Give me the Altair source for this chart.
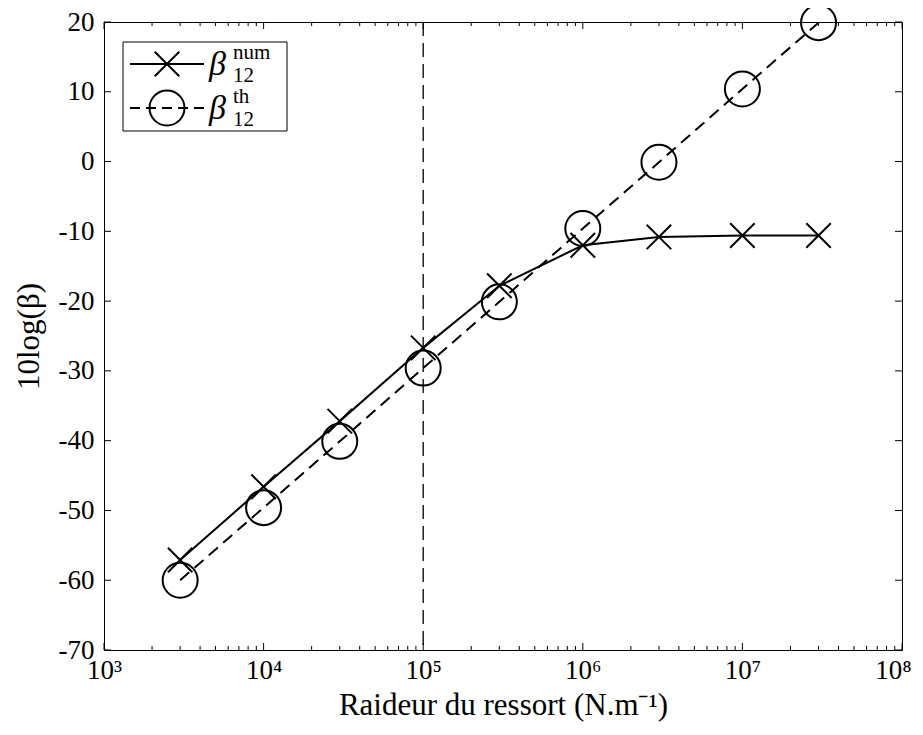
import altair as alt
import pandas as pd

# data
k_values = [3e3, 1e4, 3e4, 1e5, 3e5, 1e6, 3e6, 1e7, 3e7]
beta_num = [-57.1, -46.6, -37.2, -26.7, -17.8, -12.0, -10.8, -10.6, -10.6]
beta_th = [-60.0, -49.6, -40.1, -29.6, -20.1, -9.6, -0.1, 10.4, 19.9]
vline_x = [1e5]
x_major = [1e3, 1e4, 1e5, 1e6, 1e7, 1e8]
y_major = [-70, -60, -50, -40, -30, -20, -10, 0, 10, 20]
x_minor = [m * d for d in [1e3, 1e4, 1e5, 1e6, 1e7] for m in range(2, 10)]

W, H = 798, 628
FONT = "Liberation Serif"

df_num = pd.DataFrame({"k": k_values, "b": beta_num})
df_th = pd.DataFrame({"k": k_values, "b": beta_th})

xs = alt.Scale(type="log", domain=[1e3, 1e8], nice=False)
ys = alt.Scale(domain=[-70, 20], nice=False)

x_axis = alt.Axis(
    values=x_major,
    labelExpr="['10³','10⁴','10⁵','10⁶','10⁷','10⁸'][round(log(datum.value)/LN10)-3]",
    title="Raideur du ressort (N.m⁻¹)",
    labelPadding=7, titlePadding=7, labelFlush=False,
    labelOffset={"condition": {"test": "datum.value >= 1e8", "value": -9}, "value": 0},
    labelFont=FONT, titleFont=FONT, labelFontSize=27, titleFontSize=31,
    labelColor="black", titleColor="black", titleFontWeight="normal",
    tickSize=0, domain=False, grid=False,
)
y_axis = alt.Axis(
    values=y_major,
    labelExpr="'' + datum.value",
    title="10log(β)",
    labelPadding=10, titlePadding=13, labelFlush=False,
    labelFont=FONT, titleFont=FONT, labelFontSize=27, titleFontSize=31,
    labelColor="black", titleColor="black", titleFontWeight="normal",
    tickSize=0, domain=False, grid=False,
)

def XE():
    return alt.X("k:Q", scale=xs, axis=x_axis)

def YE():
    return alt.Y("b:Q", scale=ys, axis=y_axis)

base_axes = alt.Chart(df_th).mark_point(opacity=0).encode(x=XE(), y=YE())

vline = alt.Chart(pd.DataFrame({"k": vline_x})).mark_rule(
    color="black", strokeWidth=1.3, strokeDash=[14, 7]
).encode(x=XE(), y=alt.value(0), y2=alt.value(H))

line_num = alt.Chart(df_num).mark_line(color="black", strokeWidth=2).encode(x=XE(), y=YE())
line_th = alt.Chart(df_th).mark_line(color="black", strokeWidth=2, strokeDash=[12, 7]).encode(
    x=XE(), y=YE())

XSHAPE = "M-1,-1L1,1M-1,1L1,-1"
pts_num = alt.Chart(df_num).mark_point(
    shape=XSHAPE, size=600, color="black", strokeWidth=2, filled=False, opacity=1
).encode(x=XE(), y=YE())
pts_th = alt.Chart(df_th).mark_point(
    shape="circle", size=1225, color="black", strokeWidth=2, filled=False, opacity=1
).encode(x=XE(), y=YE())

# inward ticks (box style)
tick_layers = []
for vals, length in [(x_major, 7), (x_minor, 4)]:
    d = pd.DataFrame({"k": vals})
    tick_layers.append(alt.Chart(d).mark_rule(color="black", strokeWidth=1).encode(
        x=XE(), y=alt.value(H), y2=alt.value(H - length)))
    tick_layers.append(alt.Chart(d).mark_rule(color="black", strokeWidth=1).encode(
        x=XE(), y=alt.value(0), y2=alt.value(length)))
dy = pd.DataFrame({"b": y_major})
tick_layers.append(alt.Chart(dy).mark_rule(color="black").encode(
    y=YE(), x=alt.value(0), x2=alt.value(7)))
tick_layers.append(alt.Chart(dy).mark_rule(color="black").encode(
    y=YE(), x=alt.value(W), x2=alt.value(W - 7)))

# legend
one = pd.DataFrame({"a": [0]})
R1, R2 = 42, 86
leg = []
leg.append(alt.Chart(one).mark_rect(fill="white", stroke="black", strokeWidth=1).encode(
    x=alt.value(19), x2=alt.value(183), y=alt.value(20), y2=alt.value(109)))
leg.append(alt.Chart(one).mark_rule(color="black", strokeWidth=2).encode(
    x=alt.value(26), x2=alt.value(100), y=alt.value(R1)))
leg.append(alt.Chart(one).mark_rule(color="black", strokeWidth=2, strokeDash=[10, 6]).encode(
    x=alt.value(26), x2=alt.value(100), y=alt.value(R2)))
leg.append(alt.Chart(one).mark_point(shape=XSHAPE, size=600, color="black", strokeWidth=2,
                                     filled=False, opacity=1).encode(
    x=alt.value(63), y=alt.value(R1)))
leg.append(alt.Chart(one).mark_point(shape="circle", size=1225, color="black", strokeWidth=2,
                                     filled=False, opacity=1).encode(
    x=alt.value(63), y=alt.value(R2)))
legend_rows = [("num", R1), ("th", R2)]
for sup, yy in legend_rows:
    leg.append(alt.Chart(one).mark_text(text="β", font=FONT, fontStyle="italic", fontSize=34,
                                        align="left", baseline="middle", color="black").encode(
        x=alt.value(105), y=alt.value(yy + 1)))
    leg.append(alt.Chart(one).mark_text(text=sup, font=FONT, fontSize=21,
                                        align="left", baseline="middle", color="black").encode(
        x=alt.value(129), y=alt.value(yy - 11)))
    leg.append(alt.Chart(one).mark_text(text="12", font=FONT, fontSize=21,
                                        align="left", baseline="middle", color="black").encode(
        x=alt.value(129), y=alt.value(yy + 12)))

chart = alt.layer(
    base_axes, vline, *tick_layers, line_th, line_num, pts_th, pts_num, *leg
).properties(
    width=W, height=H,
    background="white",
    autosize=alt.AutoSizeParams(type="none"),
    padding={"left": 96, "top": 14, "right": 12, "bottom": 76},
).configure_view(stroke="black", strokeWidth=1)

chart.save("out.html", embed_options={"renderer": "svg", "actions": False})
